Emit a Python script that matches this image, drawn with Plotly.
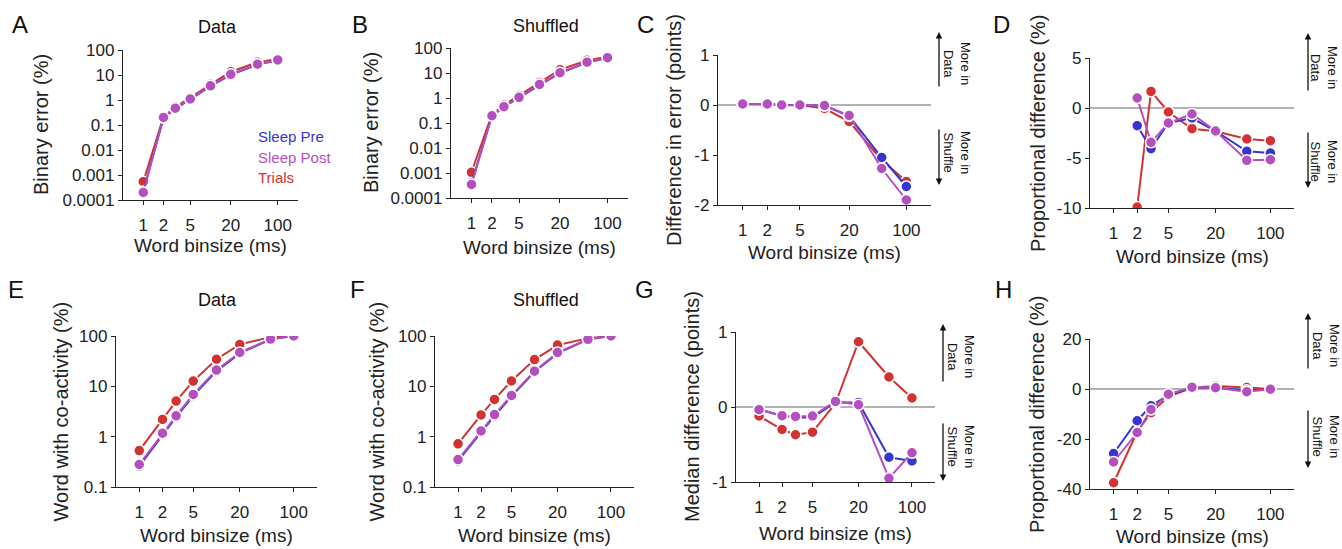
import plotly.graph_objects as go

W, H = 1342, 549

# ---------------- data ----------------
binsizes = [1, 2, 3, 5, 10, 20, 50, 100]
x_tickvals = [1, 2, 5, 20, 100]
x_ticktext = ["1", "2", "5", "20", "100"]

series_names = ["Trials", "Sleep Pre", "Sleep Post"]

A_trials = [0.00054, 0.21, 0.52, 1.25, 4.3, 13.5, 32, 45]
A_pre = [0.00022, 0.19, 0.45, 1.05, 3.6, 10.2, 26, 39]
A_post = [0.0002, 0.2, 0.47, 1.1, 3.7, 10.6, 27, 40]

B_trials = [0.00107, 0.22, 0.52, 1.25, 4.2, 13.5, 32, 45]
B_pre = [0.0004, 0.19, 0.44, 1.03, 3.4, 10.0, 26, 40]
B_post = [0.00035, 0.195, 0.45, 1.07, 3.5, 10.3, 27, 41]

C_trials = [0.02, 0.02, 0.0, 0.0, -0.07, -0.33, -1.1, -1.53]
C_pre = [0.02, 0.02, 0.0, 0.0, -0.01, -0.22, -1.05, -1.63]
C_post = [0.02, 0.02, 0.0, 0.0, -0.01, -0.21, -1.27, -1.9]

D_trials = [None, -9.9, 1.66, -0.4, -2.07, -2.33, -3.1, -3.27]
D_pre = [None, -1.77, -4.07, -1.5, -1.0, -2.3, -4.33, -4.5]
D_post = [None, 1.0, -3.43, -1.5, -0.6, -2.3, -5.23, -5.17]

E_trials = [0.53, 2.2, 5.1, 12.7, 34.5, 68, 95, 100]
E_pre = [0.26, 1.1, 2.45, 6.5, 20, 45, 86, 100]
E_post = [0.28, 1.17, 2.6, 6.9, 21, 47, 87, 100]

F_trials = [0.72, 2.7, 5.5, 12.8, 34, 66, 90, 100]
F_pre = [0.33, 1.25, 2.6, 6.3, 19.5, 45, 86, 100]
F_post = [0.35, 1.3, 2.75, 6.6, 20, 47, 86, 100]

G_trials = [-0.12, -0.30, -0.37, -0.335, 0.05, 0.87, 0.40, 0.12]
G_pre = [-0.03, -0.12, -0.14, -0.14, 0.06, 0.06, -0.67, -0.72]
G_post = [-0.035, -0.115, -0.125, -0.12, 0.075, 0.03, -0.95, -0.61]

H_trials = [-37.5, -17.1, -9.5, -3.0, 0.5, 1.2, 0.6, 0.0]
H_pre = [-25.8, -12.7, -6.7, -2.5, 0.5, 0.5, -0.5, -0.3]
H_post = [-29.2, -17.4, -8.2, -2.1, 0.7, 0.5, -1.1, -0.1]

log_err_ticks = [0.0001, 0.001, 0.01, 0.1, 1, 10, 100]
log_err_text = ["0.0001", "0.001", "0.01", "0.1", "1", "10", "100"]
log_co_ticks = [0.1, 1, 10, 100]
log_co_text = ["0.1", "1", "10", "100"]

# ---------------- style ----------------
FONT = "Arial, Liberation Sans, sans-serif"
TXT = "#222222"
COL = {"Trials": "#d23232", "Sleep Pre": "#3535d2", "Sleep Post": "#b44fc0"}


def px(xp):
    return xp / W


def py(yp):
    return 1 - yp / H


panels = [
    dict(k="A", data=(A_trials, A_pre, A_post), ytype="log", yr=[-4, 2],
         tv=log_err_ticks, tt=log_err_text, box=(123, 298, 50, 200), xty=245,
         ytitle="Binary error (%)", ytx=41, title="Data", tx=218, ty=27,
         letter=(20, 25)),
    dict(k="B", data=(B_trials, B_pre, B_post), ytype="log", yr=[-4, 2],
         tv=log_err_ticks, tt=log_err_text, box=(451, 628, 48, 198), xty=247,
         ytitle="Binary error (%)", ytx=371, title="Shuffled", tx=546, ty=26,
         letter=(360, 25)),
    dict(k="C", data=(C_trials, C_pre, C_post), ytype="linear", yr=[-2, 1],
         tv=[-2, -1, 0, 1], tt=["-2", "-1", "0", "1"], box=(718, 931, 55, 205), xty=252,
         ytitle="Difference in error (points)", ytx=674, title=None,
         letter=(645, 25), arrows=(939, 88, 32, 128, 185, 957, 63, 152)),
    dict(k="D", data=(D_trials, D_pre, D_post), ytype="linear", yr=[-10, 5],
         tv=[-10, -5, 0, 5], tt=["-10", "-5", "0", "5"], box=(1090, 1294, 58, 208), xty=256,
         ytitle="Proportional difference (%)", ytx=1038, title=None,
         letter=(1001, 25), arrows=(1308, 92, 33, 131, 188, 1324, 67, 161)),
    dict(k="E", data=(E_trials, E_pre, E_post), ytype="log", yr=[-1, 2],
         tv=log_co_ticks, tt=log_co_text, box=(116, 317, 336, 487), xty=535,
         ytitle="Word with co-activity (%)", ytx=60, title="Data", tx=217, ty=300,
         letter=(16, 289)),
    dict(k="F", data=(F_trials, F_pre, F_post), ytype="log", yr=[-1, 2],
         tv=log_co_ticks, tt=log_co_text, box=(435, 634, 336, 487), xty=535,
         ytitle="Word with co-activity (%)", ytx=376, title="Shuffled", tx=546, ty=300,
         letter=(357, 289)),
    dict(k="G", data=(G_trials, G_pre, G_post), ytype="linear", yr=[-1, 1],
         tv=[-1, 0, 1], tt=["-1", "0", "1"], box=(736, 935, 332, 482), xty=533,
         ytitle="Median difference (points)", ytx=692, title=None,
         letter=(644, 289), arrows=(943, 383, 324, 422, 481, 961, 357, 447)),
    dict(k="H", data=(H_trials, H_pre, H_post), ytype="linear", yr=[-40, 20],
         tv=[-40, -20, 0, 20], tt=["-40", "-20", "0", "20"], box=(1090, 1294, 339, 489), xty=536,
         ytitle="Proportional difference (%)", ytx=1037, title=None,
         letter=(1003, 289), arrows=(1308, 370, 313, 409, 468, 1326, 345, 436)),
]

fig = go.Figure()
annotations = []
shapes = []

for i, p in enumerate(panels):
    n = i + 1
    xa = "x" if n == 1 else f"x{n}"
    ya = "y" if n == 1 else f"y{n}"
    x0, x1, y0, y1 = p["box"]
    for name, vals in zip(series_names, p["data"]):
        fig.add_trace(go.Scatter(
            x=binsizes, y=vals, mode="lines+markers", name=name,
            xaxis=xa, yaxis=ya, showlegend=False, connectgaps=False,
            line=dict(color=COL[name], width=2),
            marker=dict(color=COL[name], size=11, line=dict(color="white", width=1.5)),
        ))
    axis_common = dict(
        showline=True, linecolor=TXT, linewidth=1.3, ticks="outside", ticklen=4,
        tickwidth=1.2, tickcolor=TXT, showgrid=False, zeroline=False,
        tickfont=dict(family=FONT, size=17, color=TXT), mirror=False,
        automargin=False,
    )
    fig.layout[("xaxis" if n == 1 else f"xaxis{n}")] = dict(
        axis_common, type="log", range=[-0.30103, 2.30103],
        domain=[px(x0), px(x1)], anchor=ya,
        tickvals=x_tickvals, ticktext=x_ticktext, ticklabelstandoff=5,
    )
    yax = dict(axis_common, type=p["ytype"], range=p["yr"],
               domain=[py(y1), py(y0)], anchor=xa,
               tickvals=p["tv"], ticktext=p["tt"])
    fig.layout[("yaxis" if n == 1 else f"yaxis{n}")] = yax

    annotations.append(dict(
        text="Word binsize (ms)", xref="paper", yref="paper",
        x=px((x0 + x1) / 2), y=py(p["xty"]),
        showarrow=False, xanchor="center", yanchor="middle",
        font=dict(family=FONT, size=19, color=TXT)))
    annotations.append(dict(
        text=p["ytitle"], xref="paper", yref="paper",
        x=px(p["ytx"]), y=py((y0 + y1) / 2), textangle=-90,
        showarrow=False, xanchor="center", yanchor="middle",
        font=dict(family=FONT, size=20, color=TXT)))
    annotations.append(dict(
        text=p["k"], xref="paper", yref="paper",
        x=px(p["letter"][0]), y=py(p["letter"][1]),
        showarrow=False, xanchor="center", yanchor="middle",
        font=dict(family=FONT, size=24, color="#111111")))
    if p.get("title"):
        annotations.append(dict(
            text=p["title"], xref="paper", yref="paper",
            x=px(p["tx"]), y=py(p["ty"]),
            showarrow=False, xanchor="center", yanchor="middle",
            font=dict(family=FONT, size=18, color="#111111")))
    if p["ytype"] == "linear":
        shapes.append(dict(
            type="line", xref=f"{xa} domain", yref=ya, x0=0, x1=1, y0=0, y1=0,
            line=dict(color="#999999", width=1.3), layer="below"))
    if p.get("arrows"):
        ax_, up_t, up_h, dn_t, dn_h, tx_, ty_d, ty_s = p["arrows"]
        annotations.append(dict(
            x=px(ax_), y=py(up_h), xref="paper", yref="paper",
            ax=0, ay=up_t - up_h, axref="pixel", ayref="pixel",
            text="", showarrow=True, arrowhead=2, arrowsize=1, arrowwidth=1.3,
            arrowcolor="#111111"))
        annotations.append(dict(
            x=px(ax_), y=py(dn_h), xref="paper", yref="paper",
            ax=0, ay=dn_t - dn_h, axref="pixel", ayref="pixel",
            text="", showarrow=True, arrowhead=2, arrowsize=1, arrowwidth=1.3,
            arrowcolor="#111111"))
        for txt, yy in (("More in<br>Data", ty_d), ("More in<br>Shuffle", ty_s)):
            annotations.append(dict(
                text=txt, xref="paper", yref="paper", x=px(tx_), y=py(yy),
                textangle=90, showarrow=False, xanchor="center", yanchor="middle",
                font=dict(family=FONT, size=13, color="#111111")))

for name, yy in (("Sleep Pre", 136), ("Sleep Post", 157), ("Trials", 177)):
    annotations.append(dict(
        text=name, xref="paper", yref="paper", x=px(256), y=py(yy),
        showarrow=False, xanchor="left", yanchor="middle",
        font=dict(family=FONT, size=15, color=COL[name])))

fig.update_layout(
    template="none",
    width=W, height=H, margin=dict(l=0, r=0, t=0, b=0, pad=0, autoexpand=False),
    paper_bgcolor="white", plot_bgcolor="white",
    annotations=annotations, shapes=shapes, showlegend=False,
    font=dict(family=FONT, color=TXT),
)

fig.write_html(
    "out.html",
    post_script="document.body.style.margin='0';document.body.style.padding='0';"
                "document.body.style.overflow='hidden';"
                "document.documentElement.style.overflow='hidden';",
)
